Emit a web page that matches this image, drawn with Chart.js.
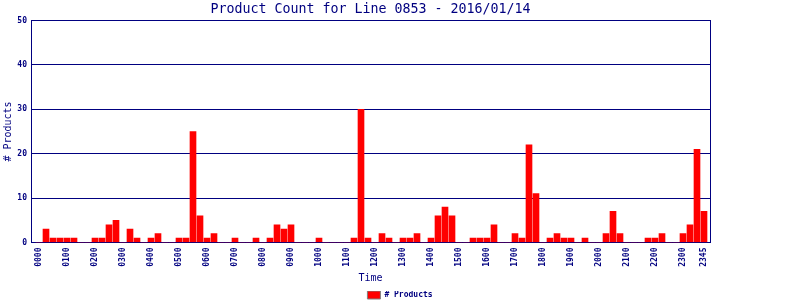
<!DOCTYPE html>
<html>
<head>
<meta charset="utf-8">
<script src="https://cdn.jsdelivr.net/npm/chart.js@4/dist/chart.umd.min.js"></script>
<style>
  html, body { margin: 0; padding: 0; background: #ffffff; }
  #wrap { width: 800px; height: 300px; }
</style>
</head>
<body>
<div id="wrap"><canvas id="c" width="800" height="300"></canvas></div>
<script>
const chartTitle = 'Product Count for Line 0853 - 2016/01/14';
const seriesName = '# Products';

const timeSlots = [
  '0000','0015','0030','0045','0100','0115','0130','0145',
  '0200','0215','0230','0245','0300','0315','0330','0345',
  '0400','0415','0430','0445','0500','0515','0530','0545',
  '0600','0615','0630','0645','0700','0715','0730','0745',
  '0800','0815','0830','0845','0900','0915','0930','0945',
  '1000','1015','1030','1045','1100','1115','1130','1145',
  '1200','1215','1230','1245','1300','1315','1330','1345',
  '1400','1415','1430','1445','1500','1515','1530','1545',
  '1600','1615','1630','1645','1700','1715','1730','1745',
  '1800','1815','1830','1845','1900','1915','1930','1945',
  '2000','2015','2030','2045','2100','2115','2130','2145',
  '2200','2215','2230','2245','2300','2315','2330','2345'
];

const productCounts = [
  0, 3, 1, 1, 1, 1, 0, 0,
  1, 1, 4, 5, 0, 3, 1, 0,
  1, 2, 0, 0, 1, 1, 25, 6,
  1, 2, 0, 0, 1, 0, 0, 1,
  0, 1, 4, 3, 4, 0, 0, 0,
  1, 0, 0, 0, 0, 1, 30, 1,
  0, 2, 1, 0, 1, 1, 2, 0,
  1, 6, 8, 6, 0, 0, 1, 1,
  1, 4, 0, 0, 2, 1, 22, 11,
  0, 1, 2, 1, 1, 0, 1, 0,
  0, 2, 7, 2, 0, 0, 0, 1,
  1, 2, 0, 0, 2, 4, 21, 7
];

const xTickLabels = [
  '0000','0100','0200','0300','0400','0500','0600','0700','0800','0900',
  '1000','1100','1200','1300','1400','1500','1600','1700','1800','1900',
  '2000','2100','2200','2300','2345'
];

const yTicks = [0, 10, 20, 30, 40, 50];

const NAVY = '#000080';
const MONO = '"DejaVu Sans Mono", "Liberation Mono", monospace';

const xTickPositions = xTickLabels.map(t => timeSlots.indexOf(t));

new Chart(document.getElementById('c'), {
  type: 'bar',
  data: {
    datasets: [{
      label: seriesName,
      data: productCounts.map((v, i) => ({ x: i, y: v })),
      backgroundColor: '#ff0000',
      borderWidth: 0,
      barThickness: 6,
      yAxisID: 'y',
      xAxisID: 'x'
    }]
  },
  options: {
    responsive: false,
    devicePixelRatio: 1,
    animation: false,
    layout: { padding: { top: 0, left: 0, right: 0, bottom: -9 } },
    plugins: {
      tooltip: { enabled: false },
      title: {
        display: true,
        text: chartTitle,
        fullSize: false,
        color: NAVY,
        font: { family: MONO, size: 13.3, weight: 'normal' },
        padding: { top: 2, bottom: 2.5 }
      },
      legend: {
        display: true,
        position: 'bottom',
        align: 'center',
        labels: {
          color: NAVY,
          font: { family: MONO, size: 8, weight: 'bold' },
          boxWidth: 13,
          boxHeight: 8,
          padding: 0,
          generateLabels: (chart) => {
            const items = Chart.defaults.plugins.legend.labels.generateLabels(chart);
            items.forEach(it => { it.strokeStyle = '#808080'; it.lineWidth = 1; });
            return items;
          }
        }
      }
    },
    scales: {
      x: {
        type: 'linear',
        position: 'bottom',
        offset: false,
        min: -8 / 7,
        max: timeSlots.length - 1 + 6 / 7,
        grid: { display: false, drawTicks: false, offset: false },
        border: { display: true, color: NAVY, width: 1 },
        afterBuildTicks: (scale) => {
          scale.ticks = xTickPositions.map(v => ({ value: v }));
        },
        afterFit: (scale) => { scale.height = 48.5; },
        ticks: {
          autoSkip: false,
          minRotation: 90,
          maxRotation: 90,
          padding: 5,
          color: NAVY,
          font: { family: MONO, size: 8, weight: 'bold' },
          callback: (value) => timeSlots[value]
        },
        title: {
          display: true,
          text: 'Time',
          color: NAVY,
          font: { family: MONO, size: 10, weight: 'normal' },
          padding: { top: 0, bottom: 7 }
        }
      },
      y: {
        type: 'linear',
        position: 'left',
        min: yTicks[0],
        max: yTicks[yTicks.length - 1],
        afterBuildTicks: (scale) => {
          scale.ticks = yTicks.map(v => ({ value: v }));
        },
        afterFit: (scale) => { scale.width = 31; },
        grid: { display: true, color: NAVY, lineWidth: 1, drawTicks: false },
        border: { display: true, color: NAVY, width: 1 },
        ticks: {
          padding: 4,
          color: NAVY,
          font: { family: MONO, size: 8, weight: 'bold' }
        },
        title: {
          display: true,
          text: seriesName,
          color: NAVY,
          font: { family: MONO, size: 10, weight: 'normal' },
          padding: { top: 2, bottom: 0 }
        }
      },
      y2: {
        type: 'linear',
        position: 'right',
        display: true,
        afterFit: (scale) => { scale.width = 90; },
        grid: { display: false, drawTicks: false },
        border: { display: true, color: NAVY, width: 1 },
        ticks: { display: false }
      }
    }
  }
});
</script>
</body>
</html>
